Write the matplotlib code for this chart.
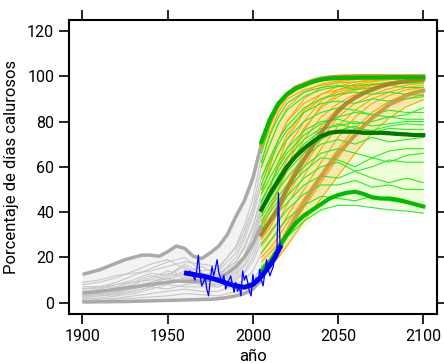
import numpy as np
import matplotlib
matplotlib.use('Agg')
from matplotlib import pyplot as plt

plt.rcParams['font.family'] = ['Roboto', 'DejaVu Sans']

# historical ensemble (1900-2005)
yrs_h5 = [1900, 1905, 1910, 1915, 1920, 1925, 1930, 1935, 1940, 1945, 1950,
          1955, 1960, 1965, 1970, 1975, 1980, 1985, 1990, 1995, 2000, 2005]
gray_hi = [12.5, 13.5, 14.5, 16, 17.5, 19, 20, 21, 21, 20.5, 22.5,
           25, 24, 20.5, 19.5, 22, 25, 30, 38, 45, 55, 70]
gray_med = [4.2, 4.5, 5, 5.5, 6, 6.5, 7, 7.5, 8, 8.5, 9,
            9.5, 9.5, 9.5, 9.5, 10, 11, 13, 16, 20, 26, 34]
gray_lo = [0.3, 0.3, 0.4, 0.4, 0.5, 0.5, 0.6, 0.7, 0.8, 0.9, 1,
           1.1, 1.2, 1.3, 1.4, 1.5, 1.8, 2.3, 3, 4, 6, 10]

yrs_h = [1900, 1910, 1920, 1930, 1940, 1950, 1960, 1970, 1980, 1990, 1995, 2000, 2005]
gray_runs = [
    [8, 9, 11, 14, 17, 19, 15, 12, 14, 22, 30, 40, 55],
    [6, 7, 9, 12, 15, 18, 20, 14, 15, 25, 34, 46, 65],
    [5, 6, 8, 10, 13, 12, 17, 13, 12, 18, 24, 33, 48],
    [4, 5, 6, 8, 11, 14, 12, 10, 11, 16, 21, 29, 42],
    [3, 4, 5, 7, 9, 12, 16, 11, 9, 14, 19, 26, 38],
    [7, 7, 8, 9, 12, 10, 13, 16, 12, 20, 28, 38, 52],
    [2, 3, 4, 5, 7, 9, 10, 8, 8, 12, 16, 22, 32],
    [1.5, 2, 3, 4, 6, 8, 7, 7, 7, 10, 13, 18, 27],
    [1, 1.5, 2, 3, 4, 5, 6, 5, 5, 8, 10, 14, 22],
    [9, 10, 12, 13, 14, 16, 18, 17, 16, 24, 32, 42, 60],
    [3, 3.5, 4.5, 6, 8, 11, 9, 8, 9, 13, 17, 24, 35],
    [0.5, 1, 1.5, 2, 2.5, 3, 4, 3.5, 3, 5, 7, 10, 15],
    [5, 5, 6, 7, 9, 11, 14, 12, 10, 15, 20, 27, 40],
    [2.5, 3, 3.5, 5, 7, 6, 8, 9, 7, 11, 14, 20, 30],
    [6, 6.5, 7, 9, 10, 13, 11, 9, 13, 18, 25, 34, 45],
    [4, 4, 5, 6, 8, 9, 11, 10, 10, 15, 21, 30, 44],
]

# future ensembles (2005-2100)
yrs_f5 = [2005, 2010, 2015, 2020, 2025, 2030, 2035, 2040, 2045, 2050,
          2055, 2060, 2065, 2070, 2075, 2080, 2085, 2090, 2095, 2100]
orange_hi = [70, 80, 87.5, 92, 95, 96.5, 98, 99, 99.5, 99.8,
             99.9, 100, 100, 100, 100, 100, 100, 100, 100, 100]
orange_med = [30, 36, 42, 50, 57, 63, 69, 75, 80, 84.5,
              88, 90.5, 92.5, 94, 95.5, 96.5, 97.3, 97.8, 98.2, 98.5]
orange_low = [14, 18, 24, 31, 38, 44, 50, 55.5, 61, 66,
              70, 74, 78, 81.5, 84.5, 87.5, 89.5, 91.5, 92.8, 93.6]
orange_band_lo = [13, 16, 20, 25, 30.5, 36, 41, 46, 51, 56,
                  61, 66, 70.5, 75, 78.5, 81.5, 84, 86.5, 88, 89.6]
green_hi = [71, 81, 88, 92, 94.5, 96, 97.5, 98.5, 99, 99.2,
            99.3, 99.3, 99.4, 99.4, 99.4, 99.5, 99.5, 99.5, 99.5, 99.5]
green_med = [41, 48, 54, 60, 64.5, 68, 71, 73.5, 75, 75.5,
             75.5, 75.5, 75, 75, 75, 74.8, 74.5, 74.3, 74, 74]
green_low = [14, 18, 24, 30, 35, 38.5, 41, 43.5, 46, 47.5,
             48.5, 49, 48, 46.5, 46, 46, 45.5, 44.5, 43.5, 42.5]
green_band_lo = [14, 17, 22, 27, 31, 34, 37, 40, 42.5, 44,
                 44.5, 44.5, 44, 43, 42.5, 43, 42, 41, 40, 39.5]

yrs_f = [2005, 2010, 2015, 2020, 2030, 2040, 2050, 2060, 2070, 2080, 2090, 2100]
orange_runs = [
    [68, 78, 86, 91, 96, 98, 99, 99.5, 99.5, 99.7, 99.8, 99.8],
    [60, 70, 79, 86, 93, 96.5, 98, 99, 99.3, 99.5, 99.6, 99.7],
    [55, 63, 72, 80, 90, 95, 97.5, 98.5, 99, 99.2, 99.4, 99.5],
    [50, 58, 66, 74, 85, 92, 95.5, 97.5, 98.5, 99, 99.2, 99.4],
    [45, 52, 60, 68, 80, 89, 94, 96.5, 97.5, 98.5, 99, 99],
    [40, 47, 55, 63, 77, 86, 91, 94, 96, 97.5, 98, 98.5],
    [35, 42, 50, 58, 72, 82, 88, 92, 95, 96.5, 97.5, 98],
    [30, 36, 44, 52, 66, 78, 86, 91, 94, 96, 97, 97.5],
    [28, 33, 40, 47, 60, 72, 82, 88, 92, 94.5, 96, 97],
    [25, 30, 36, 43, 56, 68, 78, 85, 90, 93, 95, 96],
    [22, 27, 32, 38, 50, 62, 73, 82, 88, 91.5, 94, 95],
    [20, 24, 29, 35, 46, 57, 68, 77, 84, 89, 92, 94],
    [18, 22, 26, 31, 42, 53, 64, 74, 82, 87, 90, 92],
    [13, 16, 20, 25, 36, 46, 56, 66, 75, 81.5, 86.5, 89.6],
    [62, 75, 84, 90, 94, 96, 97, 97.5, 98, 98.5, 99, 99.2],
    [48, 60, 72, 80, 88, 92, 94, 95.5, 96.5, 97, 97.5, 98],
    [38, 50, 62, 72, 84, 90, 93, 95, 96, 97, 97.5, 98],
    [32, 40, 50, 60, 76, 87, 92, 94.5, 96, 97, 97.8, 98.3],
]
green_runs = [
    [66, 78, 87, 92, 96, 98, 99, 99, 99, 99, 99, 99],
    [60, 70, 79, 85, 91, 94, 95.5, 96, 96.5, 97, 97, 97],
    [55, 64, 72, 78, 86, 90, 92, 93, 92, 93, 92, 91.5],
    [50, 58, 66, 72, 80, 84, 86, 85, 83, 85, 84, 84],
    [48, 55, 62, 68, 76, 80, 81, 79, 80, 82, 81, 81],
    [45, 52, 58, 64, 72, 77, 78, 80, 78, 79, 80, 80],
    [42, 49, 56, 61, 70, 76, 79, 77, 76, 78, 79, 78.5],
    [40, 46, 52, 58, 66, 72, 76, 78, 75, 77, 76.5, 76.5],
    [38, 44, 50, 55, 64, 70, 72, 70, 73, 71, 72, 73],
    [36, 42, 47, 52, 60, 66, 68, 66, 64, 67, 68, 68],
    [34, 40, 45, 50, 58, 64, 63, 60, 64, 62, 65, 66],
    [32, 37, 42, 47, 55, 60, 62, 58, 60, 63, 62, 62],
    [30, 35, 40, 44, 52, 56, 55, 58, 55, 53, 55, 53],
    [26, 31, 36, 41, 48, 52, 52, 54, 51, 52, 50, 50],
    [22, 27, 32, 37, 43, 47, 46, 45, 47, 45, 44, 43],
    [16, 19, 24, 29, 36, 41, 43, 43, 42, 41, 40.5, 39.5],
    [62, 74, 82, 88, 93, 95, 96, 94, 95, 96, 95, 95],
    [52, 62, 70, 76, 84, 88, 89, 88, 90, 89, 90, 91],
    [44, 52, 60, 66, 74, 79, 82, 84, 83, 82, 83, 86],
]

# observations
obs_years = list(range(1961, 2017))
obs = [13, 12.5, 14, 12, 11.8, 10, 14, 21, 12, 7.4,
       9, 11, 6, 3, 10, 16, 12, 15, 19, 13.4,
       11, 9.6, 12, 6, 8, 10, 11.8, 8, 4.6, 9,
       5, 7, 3, 14, 10, 12, 9, 5, 3, 12.5,
       8, 11, 9, 14.8, 10, 7.4, 13, 19, 15, 11.8,
       14, 16, 22, 20, 48.5, 24]
obs_sm_years = [1961, 1965, 1970, 1975, 1980, 1985, 1990, 1995, 2000, 2005, 2010, 2013, 2016]
obs_sm = [13, 12.5, 11.8, 11, 9.8, 8.5, 7.4, 6.8, 8, 11.5, 16.5, 20, 24.5]

fig = plt.figure(figsize=(4.44, 3.63), dpi=100)
ax = fig.add_axes([0.155, 0.135, 0.829, 0.811])

ax.fill_between(yrs_h5, gray_lo, gray_hi, color='#f3f3f3', lw=0)
for r in gray_runs:
    ax.plot(yrs_h, r, color='#c8c8c8', lw=0.8)
for s in (gray_hi, gray_med, gray_lo):
    ax.plot(yrs_h5, s, color='#aaaaaa', lw=2.5, solid_capstyle='butt')

ax.fill_between(yrs_f5, green_band_lo, green_hi, color='#eeffd8', lw=0)
ax.fill_between(yrs_f5, orange_band_lo, orange_hi, color='#f3e9ad', lw=0)
for r in orange_runs:
    ax.plot(yrs_f, r, color='#ffa500', lw=0.8)
for r in green_runs:
    ax.plot(yrs_f, r, color='#22ee22', lw=0.8)

ax.plot(yrs_f5, orange_low, color='#c8953a', lw=3, alpha=0.85)
ax.plot(yrs_f5, orange_med, color='#a87a28', lw=3, alpha=0.85)
ax.plot(yrs_f5, orange_hi, color='#d89a20', lw=3)
ax.plot(yrs_f5, green_low, color='#00bb00', lw=3)
ax.plot(yrs_f5, green_med, color='#007700', lw=3)
ax.plot(yrs_f5, green_hi, color='#00bb00', lw=3)

ax.plot(obs_years, obs, color='#0000ff', lw=0.9)
ax.plot(obs_sm_years, obs_sm, color='#0000ff', lw=3.5)

ax.set_xlim(1892, 2108)
ax.set_ylim(-5, 125)
ax.set_xticks([1900, 1950, 2000, 2050, 2100])
ax.set_yticks([0, 20, 40, 60, 80, 100, 120])
ax.tick_params(direction='out', length=7, width=1.2, labelsize=11.5,
               top=True, right=True, colors='black')
for sp in ax.spines.values():
    sp.set_linewidth(1.5)
ax.set_xlabel('año', fontsize=12, labelpad=4)
ax.set_ylabel('Porcentaje de días calurosos', fontsize=12, labelpad=6)

fig.savefig('out.png', dpi=100)
